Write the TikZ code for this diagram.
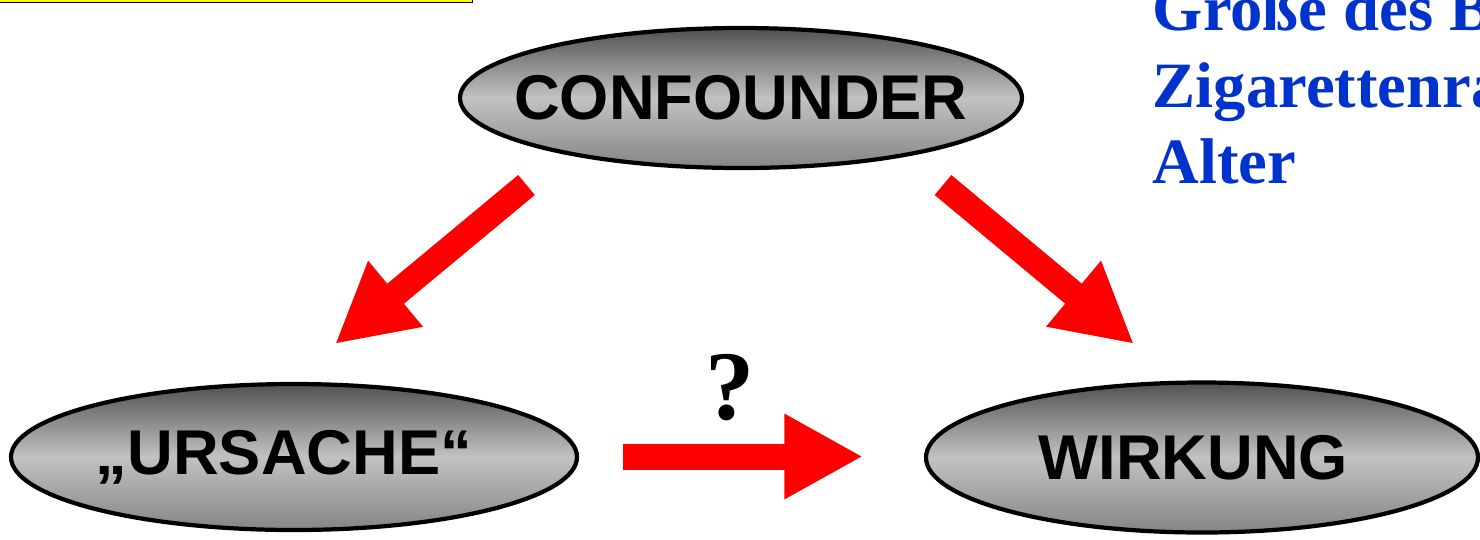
\documentclass[tikz,border=0pt]{standalone}
\usepackage{fontspec}
\setmainfont{Liberation Serif}
\setsansfont{Liberation Sans}
\usetikzlibrary{shapes.geometric,arrows.meta,positioning}
\definecolor{ArrowRed}{RGB}{255,0,0}
\definecolor{NoteBlue}{RGB}{0,51,204}
\definecolor{TagYellow}{RGB}{255,255,0}
\newcommand{\ovaltext}[2][0pt]{\makebox[0pt]{#2\hspace*{#1}}}
\tikzset{
  ebox/.style={ellipse,draw=black,line width=1.2pt,inner sep=0pt,
               top color=black!68,bottom color=black!48,middle color=black!24,
               font=\sffamily\bfseries\fontsize{18}{20}\selectfont},
  bigarr/.style={-{Triangle[length=22.4pt,width=22.7pt]},ArrowRed,line width=7.4pt},
  note/.style={anchor=base west,inner sep=0pt,text=NoteBlue,
               font=\bfseries\fontsize{18.4}{21.8}\selectfont},
}
\begin{document}
\begin{tikzpicture}
  \useasboundingbox (0,0) rectangle (14.8,-5.39);
  \clip (0,0) rectangle (14.8,-5.39);
  \draw[fill=TagYellow,line width=0.4pt] (-0.1,0.5) rectangle (4.725,-0.027);

  \node[ebox, minimum width=5.62cm, minimum height=1.40cm] (conf) at (7.41,-0.98) {\ovaltext{CONFOUNDER}};
  \node[ebox, minimum width=5.66cm, minimum height=1.46cm] (cause) at (2.94,-4.57) {\ovaltext[0.2cm]{„URSACHE“}};
  \node[ebox, minimum width=5.52cm, minimum height=1.50cm] (effect) at (12.02,-4.575) {\ovaltext[0.17cm]{WIRKUNG}};

  \coordinate (confL) at (5.265,-1.85);
  \coordinate (causeT) at (3.35,-3.44);
  \coordinate (confR) at (9.43,-1.85);
  \coordinate (effectT) at (11.34,-3.44);
  \coordinate (causeR) at (6.23,-4.565);
  \coordinate (effectL) at (8.63,-4.565);

  \draw[bigarr] (confL) -- (causeT);
  \draw[bigarr] (confR) -- (effectT);
  \draw[bigarr] (causeR) -- (effectL);
  \node[font=\bfseries\fontsize{28}{30}\selectfont] (qm) at (7.30,-3.88) {?};

  \node[note] (n1) at (11.52,-0.30) {Große des B};
  \node[note] (n2) at (11.52,-1.07) {Zigarettenra};
  \node[note] (n3) at (11.52,-1.83) {Alter};
\end{tikzpicture}
\end{document}
